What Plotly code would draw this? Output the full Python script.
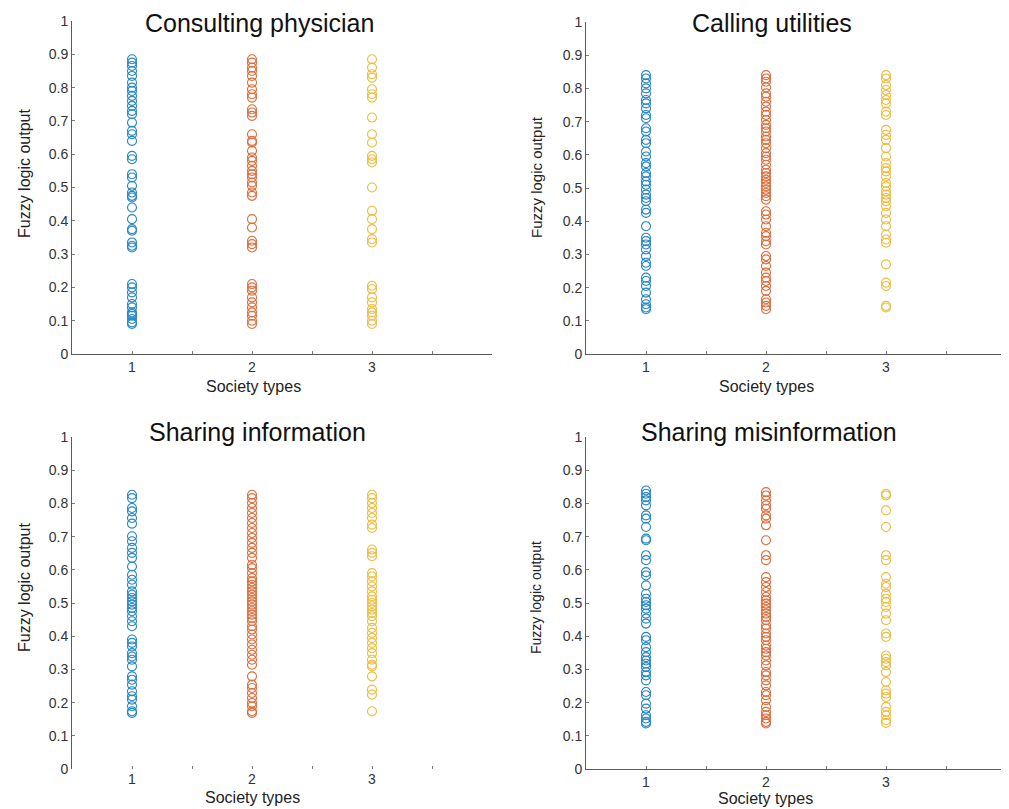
import plotly.graph_objects as go

W, H = 1009, 809
PAD = 8  # default page body margin around the plot div
FW, FH = W - PAD, H - PAD  # div fills the window to its right and bottom edges

society_types = [1, 2, 3]
colors = ["#0072BD", "#D95319", "#EDB120"]
panel_titles = ["Consulting physician", "Calling utilities", "Sharing information", "Sharing misinformation"]
y_ticks = [0, 0.1, 0.2, 0.3, 0.4, 0.5, 0.6, 0.7, 0.8, 0.9, 1]
y_tick_text = ["0", "0.1", "0.2", "0.3", "0.4", "0.5", "0.6", "0.7", "0.8", "0.9", "1"]
x_ticks = [1, 1.5, 2, 2.5, 3, 3.5]
x_tick_text = ["1", "", "2", "", "3", ""]

# Consulting physician
cp_type1 = [0.885, 0.875, 0.865, 0.85, 0.835, 0.815, 0.80, 0.79, 0.775, 0.76, 0.745, 0.73, 0.72, 0.695,
            0.67, 0.66, 0.64, 0.595, 0.585, 0.54, 0.53, 0.505, 0.485, 0.475, 0.47, 0.44, 0.405, 0.375,
            0.37, 0.335, 0.325, 0.32, 0.21, 0.20, 0.185, 0.17, 0.15, 0.14, 0.125, 0.12, 0.115, 0.105,
            0.095, 0.09]
cp_type2 = [0.885, 0.875, 0.86, 0.85, 0.835, 0.815, 0.795, 0.78, 0.77, 0.735, 0.725, 0.715, 0.66, 0.64,
            0.635, 0.61, 0.59, 0.58, 0.565, 0.55, 0.54, 0.53, 0.515, 0.505, 0.485, 0.475, 0.405, 0.38,
            0.34, 0.33, 0.32, 0.21, 0.20, 0.19, 0.17, 0.155, 0.14, 0.125, 0.115, 0.10, 0.09]
cp_type3 = [0.885, 0.86, 0.84, 0.83, 0.795, 0.78, 0.77, 0.71, 0.66, 0.635, 0.595, 0.585, 0.575, 0.50,
            0.43, 0.405, 0.375, 0.345, 0.335, 0.205, 0.195, 0.17, 0.155, 0.135, 0.125, 0.115, 0.10, 0.09]

# Calling utilities
cu_type1 = [0.840, 0.830, 0.815, 0.800, 0.785, 0.765, 0.755, 0.740, 0.720, 0.710, 0.680, 0.670, 0.645,
            0.635, 0.610, 0.595, 0.575, 0.565, 0.545, 0.535, 0.520, 0.510, 0.495, 0.480, 0.470, 0.460,
            0.435, 0.425, 0.385, 0.350, 0.340, 0.330, 0.315, 0.295, 0.275, 0.265, 0.230, 0.220, 0.205,
            0.185, 0.165, 0.150, 0.140, 0.135]
cu_type2 = [0.840, 0.830, 0.820, 0.803, 0.785, 0.775, 0.760, 0.745, 0.730, 0.720, 0.705, 0.690, 0.680,
            0.670, 0.655, 0.645, 0.635, 0.620, 0.605, 0.595, 0.585, 0.570, 0.555, 0.545, 0.535, 0.525,
            0.515, 0.505, 0.495, 0.485, 0.475, 0.465, 0.430, 0.420, 0.405, 0.385, 0.365, 0.355, 0.340,
            0.330, 0.295, 0.285, 0.265, 0.245, 0.230, 0.220, 0.205, 0.190, 0.165, 0.155, 0.145, 0.135]
cu_type3 = [0.840, 0.830, 0.810, 0.795, 0.780, 0.765, 0.755, 0.730, 0.720, 0.675, 0.660, 0.645, 0.620,
            0.595, 0.575, 0.560, 0.550, 0.535, 0.515, 0.505, 0.490, 0.480, 0.470, 0.460, 0.445, 0.425,
            0.405, 0.385, 0.360, 0.345, 0.335, 0.270, 0.215, 0.205, 0.145, 0.140]

# Sharing information
si_type1 = [0.826, 0.816, 0.786, 0.776, 0.756, 0.739, 0.701, 0.686, 0.666, 0.651, 0.636, 0.610, 0.585,
            0.570, 0.555, 0.535, 0.525, 0.515, 0.505, 0.495, 0.485, 0.475, 0.460, 0.445, 0.430, 0.390,
            0.380, 0.369, 0.349, 0.339, 0.329, 0.309, 0.279, 0.269, 0.254, 0.234, 0.219, 0.209, 0.189,
            0.174, 0.169]
si_type2 = [0.826, 0.816, 0.801, 0.786, 0.771, 0.756, 0.741, 0.726, 0.711, 0.696, 0.681, 0.666, 0.651,
            0.636, 0.615, 0.605, 0.590, 0.575, 0.565, 0.555, 0.545, 0.535, 0.525, 0.515, 0.505, 0.495,
            0.485, 0.475, 0.465, 0.455, 0.445, 0.430, 0.420, 0.405, 0.390, 0.375, 0.359, 0.344, 0.329,
            0.314, 0.279, 0.254, 0.244, 0.229, 0.214, 0.199, 0.189, 0.174, 0.169]
si_type3 = [0.826, 0.816, 0.801, 0.786, 0.771, 0.756, 0.736, 0.726, 0.661, 0.651, 0.641, 0.590, 0.580,
            0.565, 0.550, 0.535, 0.520, 0.510, 0.500, 0.490, 0.480, 0.470, 0.460, 0.445, 0.425, 0.410,
            0.395, 0.380, 0.364, 0.349, 0.329, 0.314, 0.309, 0.279, 0.239, 0.224, 0.174]

# Sharing misinformation
sm_type1 = [0.839, 0.829, 0.819, 0.809, 0.794, 0.764, 0.754, 0.729, 0.694, 0.689, 0.644, 0.629, 0.593,
            0.583, 0.553, 0.528, 0.513, 0.503, 0.493, 0.483, 0.468, 0.453, 0.438, 0.398, 0.388, 0.367,
            0.352, 0.337, 0.327, 0.317, 0.307, 0.292, 0.282, 0.267, 0.232, 0.222, 0.197, 0.182, 0.162,
            0.152, 0.142, 0.137]
sm_type2 = [0.834, 0.824, 0.809, 0.794, 0.784, 0.764, 0.754, 0.734, 0.689, 0.644, 0.629, 0.578, 0.563,
            0.548, 0.533, 0.518, 0.508, 0.498, 0.488, 0.478, 0.468, 0.458, 0.448, 0.433, 0.423, 0.408,
            0.398, 0.388, 0.372, 0.362, 0.352, 0.342, 0.327, 0.312, 0.292, 0.282, 0.267, 0.252, 0.232,
            0.222, 0.207, 0.187, 0.172, 0.162, 0.152, 0.142, 0.137]
sm_type3 = [0.829, 0.824, 0.779, 0.729, 0.644, 0.629, 0.578, 0.558, 0.548, 0.528, 0.513, 0.503, 0.488,
            0.468, 0.448, 0.408, 0.398, 0.342, 0.332, 0.322, 0.312, 0.292, 0.262, 0.237, 0.227, 0.217,
            0.187, 0.172, 0.162, 0.147, 0.139]

panels = [
    [cp_type1, cp_type2, cp_type3],
    [cu_type1, cu_type2, cu_type3],
    [si_type1, si_type2, si_type3],
    [sm_type1, sm_type2, sm_type3],
]

# page-pixel boxes of each plot area: (left, right, top, bottom)
boxes = [(72, 492, 21, 354), (586, 1006, 22, 354), (72, 492, 437, 769), (586, 1006, 437, 769)]

def px(x):
    return (x - PAD) / FW

def py(y):
    return 1 - (y - PAD) / FH

FONT = "Liberation Sans, Arial, sans-serif"

fig = go.Figure()
annotations = []
for i, (data, box) in enumerate(zip(panels, boxes)):
    n = i + 1
    xa = "x" if n == 1 else f"x{n}"
    ya = "y" if n == 1 else f"y{n}"
    for s, vals, c in zip(society_types, data, colors):
        fig.add_trace(go.Scatter(
            x=[s] * len(vals), y=vals, mode="markers", xaxis=xa, yaxis=ya,
            marker=dict(symbol="circle-open", size=9, color=c, line=dict(width=1.1, color=c)),
            opacity=0.85, showlegend=False, hoverinfo="y"))
    l, r, t, b = box
    axis_common = dict(linecolor="#5a5a5a", linewidth=1, ticks="inside", tickcolor="#7a7a7a",
                       ticklen=3, tickfont=dict(family=FONT, size=14, color="#333"),
                       showgrid=False, zeroline=False, automargin=False)
    fig.layout[f"xaxis{'' if n == 1 else n}"] = dict(
        domain=[px(l), min(px(r), 1)], anchor=ya, range=[0.5, 4], tickmode="array",
        tickvals=x_ticks, ticktext=x_tick_text, showline=(n != 3), **axis_common)
    fig.layout[f"yaxis{'' if n == 1 else n}"] = dict(
        domain=[py(b), py(t)], anchor=xa, range=[0, 1], tickmode="array",
        tickvals=y_ticks, ticktext=y_tick_text, showline=True, **axis_common)

# titles and axis labels (page-pixel positions)
title_pos = [(259, 23), (772, 23), (257, 432), (769, 432)]
xlab_pos = [(253, 386), (766, 386), (252, 797), (765, 798)]
ylab_pos = [(24, 173, 16), (537, 177, 15), (24, 587, 16), (536, 598, 14)]
for i in range(4):
    tx, ty = title_pos[i]
    annotations.append(dict(text=panel_titles[i], x=px(tx), y=py(ty), xref="paper", yref="paper",
                            showarrow=False, xanchor="center", yanchor="middle",
                            font=dict(family=FONT, size=25, color="#111")))
    lx, ly = xlab_pos[i]
    annotations.append(dict(text="Society types", x=px(lx), y=py(ly), xref="paper", yref="paper",
                            showarrow=False, xanchor="center", yanchor="middle",
                            font=dict(family=FONT, size=16, color="#222")))
    yx, yy, fs = ylab_pos[i]
    annotations.append(dict(text="Fuzzy logic output", x=px(yx), y=py(yy), xref="paper", yref="paper",
                            showarrow=False, xanchor="center", yanchor="middle", textangle=-90,
                            font=dict(family=FONT, size=fs, color="#222")))

fig.update_layout(width=FW, height=FH, margin=dict(l=0, r=0, t=0, b=0, autoexpand=False),
                  paper_bgcolor="white", plot_bgcolor="white", annotations=annotations)

fig.write_html("out.html")
